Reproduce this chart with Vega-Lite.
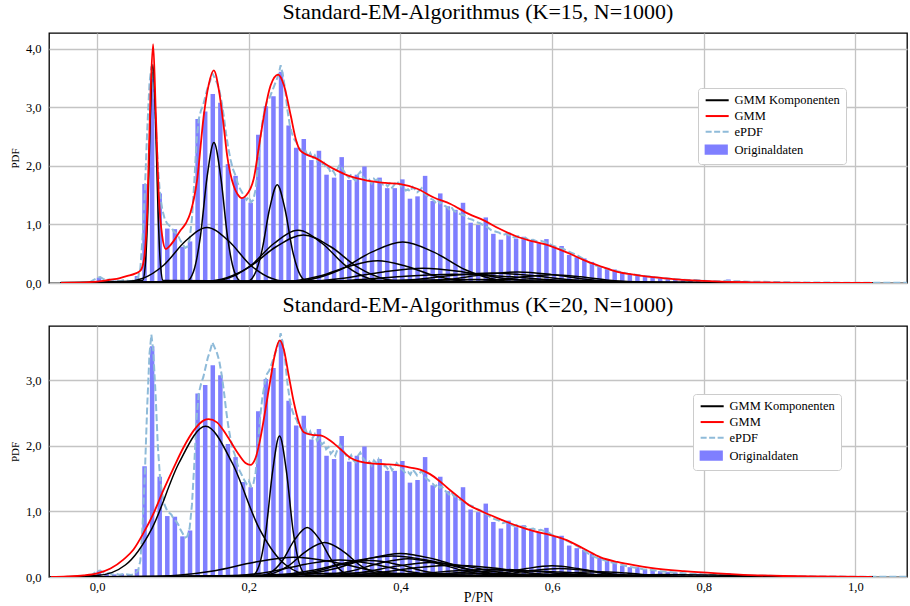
{
"$schema": "https://vega.github.io/schema/vega-lite/v6.json",
"background": "white",
"padding": {"left": 8, "top": 0, "right": 2, "bottom": 0},
"spacing": 2,
"resolve": {"scale": {"color": "independent", "x": "independent", "y": "independent"}, "legend": {"color": "independent"}},
"datasets": {
"hist": [
{"x":0.0025,"y":0.09},{"x":0.0125,"y":0.05},{"x":0.0225,"y":0.04},{"x":0.0325,"y":0.05},{"x":0.0425,"y":0.03},{"x":0.0525,"y":0.12},
{"x":0.0625,"y":1.69},{"x":0.0725,"y":3.52},{"x":0.0825,"y":1.53},{"x":0.0925,"y":0.93},{"x":0.1025,"y":0.92},{"x":0.1125,"y":0.62},
{"x":0.1225,"y":0.71},{"x":0.1325,"y":2.8},{"x":0.1425,"y":2.93},{"x":0.1525,"y":3.23},{"x":0.1625,"y":3.08},{"x":0.1725,"y":2.03},
{"x":0.1825,"y":1.83},{"x":0.1925,"y":1.45},{"x":0.2025,"y":1.37},{"x":0.2125,"y":2.53},{"x":0.2225,"y":3.02},{"x":0.2325,"y":3.19},
{"x":0.2425,"y":3.61},{"x":0.2525,"y":2.69},{"x":0.2625,"y":2.31},{"x":0.2725,"y":2.46},{"x":0.2825,"y":2.1},{"x":0.2925,"y":2.26},
{"x":0.3025,"y":1.85},{"x":0.3125,"y":1.8},{"x":0.3225,"y":2.15},{"x":0.3325,"y":1.76},{"x":0.3425,"y":1.85},{"x":0.3525,"y":1.99},
{"x":0.3625,"y":1.73},{"x":0.3725,"y":1.8},{"x":0.3825,"y":1.62},{"x":0.3925,"y":1.62},{"x":0.4025,"y":1.77},{"x":0.4125,"y":1.44},
{"x":0.4225,"y":1.48},{"x":0.4325,"y":1.83},{"x":0.4425,"y":1.4},{"x":0.4525,"y":1.53},{"x":0.4625,"y":1.31},{"x":0.4725,"y":1.25},
{"x":0.4825,"y":1.37},{"x":0.4925,"y":1.03},{"x":0.5025,"y":0.99},{"x":0.5125,"y":1.12},{"x":0.5225,"y":0.84},{"x":0.5325,"y":0.74},
{"x":0.5425,"y":0.86},{"x":0.5525,"y":0.76},{"x":0.5625,"y":0.79},{"x":0.5725,"y":0.71},{"x":0.5825,"y":0.68},{"x":0.5925,"y":0.75},
{"x":0.6025,"y":0.62},{"x":0.6125,"y":0.63},{"x":0.6225,"y":0.48},{"x":0.6325,"y":0.44},{"x":0.6425,"y":0.42},{"x":0.6525,"y":0.36},
{"x":0.6625,"y":0.29},{"x":0.6725,"y":0.26},{"x":0.6825,"y":0.23},{"x":0.6925,"y":0.17},{"x":0.7025,"y":0.15},{"x":0.7125,"y":0.15},
{"x":0.7225,"y":0.12},{"x":0.7325,"y":0.11},{"x":0.7425,"y":0.09},{"x":0.7525,"y":0.08},{"x":0.7625,"y":0.07},{"x":0.7725,"y":0.05},
{"x":0.7825,"y":0.04},{"x":0.7925,"y":0.05},{"x":0.8025,"y":0.03},{"x":0.8125,"y":0.02},{"x":0.8225,"y":0.02},{"x":0.8325,"y":0.06},
{"x":0.8425,"y":0.03},{"x":0.8525,"y":0.03},{"x":0.8625,"y":0.02},{"x":0.8725,"y":0.01},{"x":0.8825,"y":0.02},{"x":0.8925,"y":0.01},
{"x":0.9025,"y":0.01},{"x":0.9125,"y":0.01},{"x":0.9225,"y":0.005},{"x":0.9325,"y":0.005},{"x":0.9525,"y":0.005},{"x":0.9825,"y":0.004}
],
"epdf": [
{"x":-0.01,"y":0.01},{"x":-0.005,"y":0.05},{"x":0.0,"y":0.09},{"x":0.004,"y":0.1},{"x":0.008,"y":0.07},{"x":0.012,"y":0.05},{"x":0.016,"y":0.06},
{"x":0.02,"y":0.04},{"x":0.025,"y":0.05},{"x":0.03,"y":0.03},{"x":0.035,"y":0.05},{"x":0.04,"y":0.04},{"x":0.045,"y":0.03},{"x":0.05,"y":0.05},
{"x":0.054,"y":0.1},{"x":0.057,"y":0.25},{"x":0.06,"y":0.8},{"x":0.063,"y":1.6},{"x":0.066,"y":2.6},{"x":0.069,"y":3.4},{"x":0.0715,"y":3.7},
{"x":0.074,"y":3.45},{"x":0.077,"y":2.8},{"x":0.08,"y":2.0},{"x":0.083,"y":1.5},{"x":0.086,"y":1.25},{"x":0.089,"y":1.1},{"x":0.092,"y":1.02},
{"x":0.095,"y":0.98},{"x":0.098,"y":0.95},{"x":0.101,"y":0.88},{"x":0.104,"y":0.85},{"x":0.107,"y":0.8},{"x":0.11,"y":0.72},{"x":0.113,"y":0.66},
{"x":0.116,"y":0.6},{"x":0.119,"y":0.62},{"x":0.122,"y":0.75},{"x":0.125,"y":1.1},{"x":0.128,"y":1.7},{"x":0.131,"y":2.4},{"x":0.134,"y":2.8},
{"x":0.137,"y":2.95},{"x":0.14,"y":3.05},{"x":0.143,"y":3.2},{"x":0.146,"y":3.35},{"x":0.149,"y":3.45},{"x":0.152,"y":3.58},{"x":0.155,"y":3.5},
{"x":0.158,"y":3.42},{"x":0.161,"y":3.3},{"x":0.164,"y":3.1},{"x":0.167,"y":2.85},{"x":0.17,"y":2.55},{"x":0.173,"y":2.3},{"x":0.176,"y":2.1},
{"x":0.179,"y":1.95},{"x":0.182,"y":1.85},{"x":0.185,"y":1.72},{"x":0.188,"y":1.62},{"x":0.191,"y":1.55},{"x":0.194,"y":1.48},{"x":0.197,"y":1.42},
{"x":0.2,"y":1.47},{"x":0.203,"y":1.38},{"x":0.206,"y":1.42},{"x":0.209,"y":1.6},{"x":0.212,"y":2.0},{"x":0.215,"y":2.45},{"x":0.218,"y":2.75},
{"x":0.221,"y":2.95},{"x":0.224,"y":3.1},{"x":0.227,"y":3.15},{"x":0.23,"y":3.25},{"x":0.233,"y":3.35},{"x":0.236,"y":3.45},{"x":0.239,"y":3.55},
{"x":0.242,"y":3.72},{"x":0.245,"y":3.55},{"x":0.248,"y":3.3},{"x":0.251,"y":2.95},{"x":0.254,"y":2.7},{"x":0.257,"y":2.55},{"x":0.26,"y":2.45},
{"x":0.263,"y":2.4},{"x":0.266,"y":2.3},{"x":0.269,"y":2.28},{"x":0.272,"y":2.2},{"x":0.275,"y":2.25},{"x":0.278,"y":2.15},{"x":0.281,"y":2.22},
{"x":0.284,"y":2.12},{"x":0.287,"y":2.18},{"x":0.29,"y":2.08},{"x":0.293,"y":2.12},{"x":0.296,"y":2.02},{"x":0.299,"y":2.05},{"x":0.302,"y":1.95},
{"x":0.305,"y":1.98},{"x":0.308,"y":1.88},{"x":0.311,"y":1.92},{"x":0.314,"y":1.85},{"x":0.317,"y":1.95},{"x":0.32,"y":2.02},{"x":0.323,"y":1.96},
{"x":0.326,"y":1.9},{"x":0.329,"y":1.84},{"x":0.332,"y":1.8},{"x":0.335,"y":1.86},{"x":0.338,"y":1.78},{"x":0.341,"y":1.75},{"x":0.344,"y":1.85},
{"x":0.347,"y":1.9},{"x":0.35,"y":1.82},{"x":0.353,"y":1.78},{"x":0.356,"y":1.72},{"x":0.359,"y":1.76},{"x":0.362,"y":1.7},{"x":0.365,"y":1.78},
{"x":0.368,"y":1.74},{"x":0.371,"y":1.8},{"x":0.374,"y":1.72},{"x":0.377,"y":1.68},{"x":0.38,"y":1.7},{"x":0.383,"y":1.65},{"x":0.386,"y":1.7},
{"x":0.389,"y":1.63},{"x":0.392,"y":1.68},{"x":0.395,"y":1.74},{"x":0.398,"y":1.7},{"x":0.401,"y":1.65},{"x":0.404,"y":1.62},{"x":0.407,"y":1.58},
{"x":0.41,"y":1.6},{"x":0.413,"y":1.56},{"x":0.416,"y":1.64},{"x":0.419,"y":1.6},{"x":0.422,"y":1.55},{"x":0.425,"y":1.58},{"x":0.428,"y":1.62},
{"x":0.431,"y":1.55},{"x":0.434,"y":1.5},{"x":0.437,"y":1.48},{"x":0.44,"y":1.44},{"x":0.443,"y":1.42},{"x":0.446,"y":1.38},{"x":0.449,"y":1.42},
{"x":0.452,"y":1.36},{"x":0.455,"y":1.38},{"x":0.458,"y":1.32},{"x":0.461,"y":1.3},{"x":0.464,"y":1.26},{"x":0.467,"y":1.3},{"x":0.47,"y":1.24},
{"x":0.475,"y":1.2},{"x":0.48,"y":1.17},{"x":0.485,"y":1.15},{"x":0.49,"y":1.1},{"x":0.495,"y":1.08},{"x":0.5,"y":1.04},{"x":0.505,"y":1.02},
{"x":0.51,"y":0.98},{"x":0.515,"y":0.95},{"x":0.52,"y":0.9},{"x":0.525,"y":0.88},{"x":0.53,"y":0.86},{"x":0.535,"y":0.82},{"x":0.54,"y":0.84},
{"x":0.545,"y":0.8},{"x":0.55,"y":0.78},{"x":0.555,"y":0.8},{"x":0.56,"y":0.76},{"x":0.565,"y":0.77},{"x":0.57,"y":0.73},{"x":0.575,"y":0.74},
{"x":0.58,"y":0.71},{"x":0.585,"y":0.72},{"x":0.59,"y":0.7},{"x":0.595,"y":0.68},{"x":0.6,"y":0.64},{"x":0.605,"y":0.62},{"x":0.61,"y":0.6},
{"x":0.615,"y":0.58},{"x":0.62,"y":0.55},{"x":0.625,"y":0.52},{"x":0.63,"y":0.49},{"x":0.635,"y":0.46},{"x":0.64,"y":0.42},{"x":0.645,"y":0.38},
{"x":0.65,"y":0.34},{"x":0.655,"y":0.31},{"x":0.66,"y":0.29},{"x":0.665,"y":0.27},{"x":0.67,"y":0.25},{"x":0.675,"y":0.23},{"x":0.68,"y":0.22},
{"x":0.69,"y":0.19},{"x":0.7,"y":0.16},{"x":0.71,"y":0.14},{"x":0.72,"y":0.12},{"x":0.73,"y":0.11},{"x":0.74,"y":0.09},{"x":0.75,"y":0.08},
{"x":0.76,"y":0.07},{"x":0.77,"y":0.06},{"x":0.78,"y":0.05},{"x":0.79,"y":0.05},{"x":0.8,"y":0.04},{"x":0.81,"y":0.03},{"x":0.82,"y":0.03},
{"x":0.83,"y":0.04},{"x":0.84,"y":0.03},{"x":0.85,"y":0.03},{"x":0.86,"y":0.02},{"x":0.88,"y":0.02},{"x":0.9,"y":0.015},{"x":0.92,"y":0.01},
{"x":0.94,"y":0.01},{"x":0.96,"y":0.008},{"x":0.98,"y":0.006},{"x":1.0,"y":0.005},{"x":1.03,"y":0.004},{"x":1.068,"y":0.003}
],
"gmmTop": [
{"x":-0.048,"y":0},{"x":-0.03,"y":0.005},{"x":-0.01,"y":0.015},{"x":0.0,"y":0.025},{"x":0.01,"y":0.04},{"x":0.02,"y":0.06},{"x":0.03,"y":0.085},
{"x":0.04,"y":0.12},{"x":0.05,"y":0.16},{"x":0.057,"y":0.21},{"x":0.0615,"y":0.38},{"x":0.066,"y":1.21},{"x":0.0703,"y":3.2},{"x":0.0738,"y":4.08},
{"x":0.0773,"y":2.92},{"x":0.0813,"y":1.49},{"x":0.0857,"y":0.81},{"x":0.0905,"y":0.58},{"x":0.0955,"y":0.63},{"x":0.101,"y":0.72},{"x":0.11,"y":0.9},
{"x":0.117,"y":1.02},{"x":0.123,"y":1.2},{"x":0.132,"y":1.78},{"x":0.1406,"y":2.86},{"x":0.147,"y":3.38},{"x":0.1538,"y":3.63},{"x":0.1605,"y":3.3},
{"x":0.1667,"y":2.7},{"x":0.1714,"y":2.18},{"x":0.18,"y":1.66},{"x":0.185,"y":1.52},{"x":0.191,"y":1.45},{"x":0.196,"y":1.49},{"x":0.2065,"y":1.78},
{"x":0.213,"y":2.3},{"x":0.22,"y":2.86},{"x":0.2286,"y":3.37},{"x":0.2387,"y":3.56},{"x":0.2465,"y":3.37},{"x":0.2553,"y":2.86},{"x":0.2619,"y":2.46},
{"x":0.268,"y":2.26},{"x":0.29,"y":2.12},{"x":0.312,"y":1.95},{"x":0.334,"y":1.82},{"x":0.356,"y":1.75},{"x":0.38,"y":1.71},{"x":0.4,"y":1.69},
{"x":0.422,"y":1.61},{"x":0.444,"y":1.46},{"x":0.466,"y":1.35},{"x":0.49,"y":1.18},{"x":0.51,"y":1.07},{"x":0.53,"y":0.93},{"x":0.554,"y":0.79},
{"x":0.575,"y":0.71},{"x":0.598,"y":0.63},{"x":0.62,"y":0.52},{"x":0.642,"y":0.39},{"x":0.665,"y":0.28},{"x":0.686,"y":0.19},{"x":0.71,"y":0.14},
{"x":0.73,"y":0.105},{"x":0.75,"y":0.08},{"x":0.773,"y":0.055},{"x":0.8,"y":0.035},{"x":0.83,"y":0.02},{"x":0.86,"y":0.012},{"x":0.9,"y":0.006},
{"x":0.95,"y":0.003},{"x":1.022,"y":0.001}
],
"gmmBot": [
{"x":-0.061,"y":0},{"x":-0.04,"y":0.008},{"x":-0.018,"y":0.025},{"x":0.0,"y":0.056},{"x":0.0176,"y":0.13},{"x":0.035,"y":0.27},{"x":0.048,"y":0.42},
{"x":0.0615,"y":0.68},{"x":0.0747,"y":0.98},{"x":0.088,"y":1.34},{"x":0.101,"y":1.67},{"x":0.114,"y":1.98},{"x":0.127,"y":2.23},{"x":0.1406,"y":2.39},
{"x":0.147,"y":2.41},{"x":0.158,"y":2.36},{"x":0.171,"y":2.16},{"x":0.185,"y":1.9},{"x":0.1956,"y":1.74},{"x":0.202,"y":1.71},{"x":0.209,"y":1.82},
{"x":0.215,"y":2.1},{"x":0.222,"y":2.56},{"x":0.2286,"y":3.02},{"x":0.235,"y":3.43},{"x":0.2409,"y":3.61},{"x":0.246,"y":3.48},{"x":0.2527,"y":3.07},
{"x":0.2593,"y":2.67},{"x":0.266,"y":2.36},{"x":0.2725,"y":2.21},{"x":0.2835,"y":2.17},{"x":0.2945,"y":2.16},{"x":0.3077,"y":2.08},{"x":0.321,"y":1.95},
{"x":0.334,"y":1.82},{"x":0.347,"y":1.76},{"x":0.365,"y":1.73},{"x":0.382,"y":1.72},{"x":0.4,"y":1.7},{"x":0.413,"y":1.67},{"x":0.426,"y":1.64},
{"x":0.439,"y":1.57},{"x":0.453,"y":1.45},{"x":0.466,"y":1.32},{"x":0.479,"y":1.2},{"x":0.49,"y":1.1},{"x":0.5055,"y":1.01},{"x":0.532,"y":0.88},
{"x":0.554,"y":0.78},{"x":0.576,"y":0.7},{"x":0.598,"y":0.64},{"x":0.62,"y":0.56},{"x":0.642,"y":0.43},{"x":0.664,"y":0.3},{"x":0.686,"y":0.23},
{"x":0.708,"y":0.18},{"x":0.73,"y":0.14},{"x":0.774,"y":0.09},{"x":0.818,"y":0.056},{"x":0.862,"y":0.03},{"x":0.905,"y":0.015},{"x":0.95,"y":0.008},
{"x":1.022,"y":0.003}
],
"compTop": [
{"k":1,"x":-0.048,"y":0},{"k":1,"x":0.06,"y":0.041},{"k":1,"x":0.0634,"y":0.297},{"k":1,"x":0.0668,"y":1.211},{"k":1,"x":0.0701,"y":2.815},{"k":1,"x":0.0735,"y":3.73},{"k":1,"x":0.0769,"y":2.815},{"k":1,"x":0.0803,"y":1.211},{"k":1,"x":0.0836,"y":0.297},{"k":1,"x":0.087,"y":0.041},{"k":1,"x":1.022,"y":0},
{"k":2,"x":-0.048,"y":0},{"k":2,"x":0.118,"y":0.027},{"k":2,"x":0.127,"y":0.191},{"k":2,"x":0.136,"y":0.779},{"k":2,"x":0.145,"y":1.812},{"k":2,"x":0.154,"y":2.4},{"k":2,"x":0.163,"y":1.812},{"k":2,"x":0.172,"y":0.779},{"k":2,"x":0.181,"y":0.191},{"k":2,"x":0.19,"y":0.027},{"k":2,"x":1.022,"y":0},
{"k":3,"x":-0.048,"y":0},{"k":3,"x":0.031,"y":0.011},{"k":3,"x":0.0595,"y":0.076},{"k":3,"x":0.088,"y":0.308},{"k":3,"x":0.1165,"y":0.717},{"k":3,"x":0.145,"y":0.95},{"k":3,"x":0.1735,"y":0.717},{"k":3,"x":0.202,"y":0.308},{"k":3,"x":0.2305,"y":0.076},{"k":3,"x":0.259,"y":0.011},{"k":3,"x":1.022,"y":0},
{"k":4,"x":-0.048,"y":0},{"k":4,"x":0.197,"y":0.019},{"k":4,"x":0.2071,"y":0.134},{"k":4,"x":0.2172,"y":0.545},{"k":4,"x":0.2274,"y":1.268},{"k":4,"x":0.2375,"y":1.68},{"k":4,"x":0.2476,"y":1.268},{"k":4,"x":0.2578,"y":0.545},{"k":4,"x":0.2679,"y":0.134},{"k":4,"x":0.278,"y":0.019},{"k":4,"x":1.022,"y":0},
{"k":5,"x":-0.048,"y":0},{"k":5,"x":0.139,"y":0.01},{"k":5,"x":0.1705,"y":0.072},{"k":5,"x":0.202,"y":0.292},{"k":5,"x":0.2335,"y":0.679},{"k":5,"x":0.265,"y":0.9},{"k":5,"x":0.2965,"y":0.679},{"k":5,"x":0.328,"y":0.292},{"k":5,"x":0.3595,"y":0.072},{"k":5,"x":0.391,"y":0.01},{"k":5,"x":1.022,"y":0},
{"k":6,"x":-0.048,"y":0},{"k":6,"x":0.128,"y":0.009},{"k":6,"x":0.164,"y":0.065},{"k":6,"x":0.2,"y":0.266},{"k":6,"x":0.236,"y":0.619},{"k":6,"x":0.272,"y":0.82},{"k":6,"x":0.308,"y":0.619},{"k":6,"x":0.344,"y":0.266},{"k":6,"x":0.38,"y":0.065},{"k":6,"x":0.416,"y":0.009},{"k":6,"x":1.022,"y":0},
{"k":7,"x":-0.048,"y":0},{"k":7,"x":0.238,"y":0.008},{"k":7,"x":0.279,"y":0.056},{"k":7,"x":0.3205,"y":0.227},{"k":7,"x":0.362,"y":0.528},{"k":7,"x":0.403,"y":0.7},{"k":7,"x":0.444,"y":0.528},{"k":7,"x":0.4855,"y":0.227},{"k":7,"x":0.527,"y":0.056},{"k":7,"x":0.568,"y":0.008},{"k":7,"x":1.022,"y":0},
{"k":8,"x":-0.048,"y":0},{"k":8,"x":0.22,"y":0.004},{"k":8,"x":0.2575,"y":0.03},{"k":8,"x":0.295,"y":0.123},{"k":8,"x":0.3325,"y":0.287},{"k":8,"x":0.37,"y":0.38},{"k":8,"x":0.4075,"y":0.287},{"k":8,"x":0.445,"y":0.123},{"k":8,"x":0.4825,"y":0.03},{"k":8,"x":0.52,"y":0.004},{"k":8,"x":1.022,"y":0},
{"k":9,"x":-0.048,"y":0},{"k":9,"x":0.22,"y":0.003},{"k":9,"x":0.2725,"y":0.02},{"k":9,"x":0.325,"y":0.081},{"k":9,"x":0.3775,"y":0.189},{"k":9,"x":0.43,"y":0.25},{"k":9,"x":0.4825,"y":0.189},{"k":9,"x":0.535,"y":0.081},{"k":9,"x":0.5875,"y":0.02},{"k":9,"x":0.64,"y":0.003},{"k":9,"x":1.022,"y":0},
{"k":10,"x":-0.048,"y":0},{"k":10,"x":0.375,"y":0.002},{"k":10,"x":0.42,"y":0.015},{"k":10,"x":0.465,"y":0.062},{"k":10,"x":0.51,"y":0.143},{"k":10,"x":0.555,"y":0.19},{"k":10,"x":0.6,"y":0.143},{"k":10,"x":0.645,"y":0.062},{"k":10,"x":0.69,"y":0.015},{"k":10,"x":0.735,"y":0.002},{"k":10,"x":1.022,"y":0},
{"k":11,"x":-0.048,"y":0},{"k":11,"x":0.31,"y":0.002},{"k":11,"x":0.3625,"y":0.014},{"k":11,"x":0.415,"y":0.055},{"k":11,"x":0.4675,"y":0.128},{"k":11,"x":0.52,"y":0.17},{"k":11,"x":0.5725,"y":0.128},{"k":11,"x":0.625,"y":0.055},{"k":11,"x":0.6775,"y":0.014},{"k":11,"x":0.73,"y":0.002},{"k":11,"x":1.022,"y":0},
{"k":12,"x":-0.048,"y":0},{"k":12,"x":0.45,"y":0.002},{"k":12,"x":0.4875,"y":0.011},{"k":12,"x":0.525,"y":0.045},{"k":12,"x":0.5625,"y":0.106},{"k":12,"x":0.6,"y":0.14},{"k":12,"x":0.6375,"y":0.106},{"k":12,"x":0.675,"y":0.045},{"k":12,"x":0.7125,"y":0.011},{"k":12,"x":0.75,"y":0.002},{"k":12,"x":1.022,"y":0},
{"k":13,"x":-0.048,"y":0},{"k":13,"x":0.2,"y":0.002},{"k":13,"x":0.2675,"y":0.012},{"k":13,"x":0.335,"y":0.049},{"k":13,"x":0.4025,"y":0.113},{"k":13,"x":0.47,"y":0.15},{"k":13,"x":0.5375,"y":0.113},{"k":13,"x":0.605,"y":0.049},{"k":13,"x":0.6725,"y":0.012},{"k":13,"x":0.74,"y":0.002},{"k":13,"x":1.022,"y":0},
{"k":14,"x":-0.048,"y":0},{"k":14,"x":0.05,"y":0.001},{"k":14,"x":0.1625,"y":0.005},{"k":14,"x":0.275,"y":0.019},{"k":14,"x":0.3875,"y":0.045},{"k":14,"x":0.5,"y":0.06},{"k":14,"x":0.6125,"y":0.045},{"k":14,"x":0.725,"y":0.019},{"k":14,"x":0.8375,"y":0.005},{"k":14,"x":0.95,"y":0.001},{"k":14,"x":1.022,"y":0},
{"k":15,"x":-0.048,"y":0.009},{"k":15,"x":0.0,"y":0.013},{"k":15,"x":0.15,"y":0.03},{"k":15,"x":0.3,"y":0.04},{"k":15,"x":0.45,"y":0.03},{"k":15,"x":0.6,"y":0.013},{"k":15,"x":0.75,"y":0.003},{"k":15,"x":0.9,"y":0.0004},{"k":15,"x":1.022,"y":0}
],
"compBot": [
{"k":1,"x":-0.061,"y":0},{"k":1,"x":0.002,"y":0.026},{"k":1,"x":0.0372,"y":0.183},{"k":1,"x":0.0725,"y":0.747},{"k":1,"x":0.1077,"y":1.736},{"k":1,"x":0.143,"y":2.3},{"k":1,"x":0.1783,"y":1.736},{"k":1,"x":0.2135,"y":0.747},{"k":1,"x":0.2488,"y":0.183},{"k":1,"x":0.284,"y":0.026},{"k":1,"x":1.022,"y":0},
{"k":2,"x":-0.061,"y":0},{"k":2,"x":0.2045,"y":0.024},{"k":2,"x":0.2135,"y":0.171},{"k":2,"x":0.2225,"y":0.698},{"k":2,"x":0.2315,"y":1.623},{"k":2,"x":0.2405,"y":2.15},{"k":2,"x":0.2495,"y":1.623},{"k":2,"x":0.2585,"y":0.698},{"k":2,"x":0.2675,"y":0.171},{"k":2,"x":0.2765,"y":0.024},{"k":2,"x":1.022,"y":0},
{"k":3,"x":-0.061,"y":0},{"k":3,"x":0.211,"y":0.008},{"k":3,"x":0.2275,"y":0.06},{"k":3,"x":0.244,"y":0.245},{"k":3,"x":0.2605,"y":0.57},{"k":3,"x":0.277,"y":0.755},{"k":3,"x":0.2935,"y":0.57},{"k":3,"x":0.31,"y":0.245},{"k":3,"x":0.3265,"y":0.06},{"k":3,"x":0.343,"y":0.008},{"k":3,"x":1.022,"y":0},
{"k":4,"x":-0.061,"y":0},{"k":4,"x":0.204,"y":0.006},{"k":4,"x":0.228,"y":0.042},{"k":4,"x":0.252,"y":0.17},{"k":4,"x":0.276,"y":0.396},{"k":4,"x":0.3,"y":0.525},{"k":4,"x":0.324,"y":0.396},{"k":4,"x":0.348,"y":0.17},{"k":4,"x":0.372,"y":0.042},{"k":4,"x":0.396,"y":0.006},{"k":4,"x":1.022,"y":0},
{"k":5,"x":-0.061,"y":0},{"k":5,"x":0.05,"y":0.003},{"k":5,"x":0.1025,"y":0.024},{"k":5,"x":0.155,"y":0.097},{"k":5,"x":0.2075,"y":0.226},{"k":5,"x":0.26,"y":0.3},{"k":5,"x":0.3125,"y":0.226},{"k":5,"x":0.365,"y":0.097},{"k":5,"x":0.4175,"y":0.024},{"k":5,"x":0.47,"y":0.003},{"k":5,"x":1.022,"y":0},
{"k":6,"x":-0.061,"y":0},{"k":6,"x":0.22,"y":0.004},{"k":6,"x":0.265,"y":0.029},{"k":6,"x":0.31,"y":0.117},{"k":6,"x":0.355,"y":0.272},{"k":6,"x":0.4,"y":0.36},{"k":6,"x":0.445,"y":0.272},{"k":6,"x":0.49,"y":0.117},{"k":6,"x":0.535,"y":0.029},{"k":6,"x":0.58,"y":0.004},{"k":6,"x":1.022,"y":0},
{"k":7,"x":-0.061,"y":0},{"k":7,"x":0.18,"y":0.004},{"k":7,"x":0.2325,"y":0.025},{"k":7,"x":0.285,"y":0.104},{"k":7,"x":0.3375,"y":0.242},{"k":7,"x":0.39,"y":0.32},{"k":7,"x":0.4425,"y":0.242},{"k":7,"x":0.495,"y":0.104},{"k":7,"x":0.5475,"y":0.025},{"k":7,"x":0.6,"y":0.004},{"k":7,"x":1.022,"y":0},
{"k":8,"x":-0.061,"y":0},{"k":8,"x":0.26,"y":0.003},{"k":8,"x":0.2975,"y":0.022},{"k":8,"x":0.335,"y":0.091},{"k":8,"x":0.3725,"y":0.211},{"k":8,"x":0.41,"y":0.28},{"k":8,"x":0.4475,"y":0.211},{"k":8,"x":0.485,"y":0.091},{"k":8,"x":0.5225,"y":0.022},{"k":8,"x":0.56,"y":0.003},{"k":8,"x":1.022,"y":0},
{"k":9,"x":-0.061,"y":0},{"k":9,"x":0.21,"y":0.003},{"k":9,"x":0.2475,"y":0.02},{"k":9,"x":0.285,"y":0.081},{"k":9,"x":0.3225,"y":0.189},{"k":9,"x":0.36,"y":0.25},{"k":9,"x":0.3975,"y":0.189},{"k":9,"x":0.435,"y":0.081},{"k":9,"x":0.4725,"y":0.02},{"k":9,"x":0.51,"y":0.003},{"k":9,"x":1.022,"y":0},
{"k":10,"x":-0.061,"y":0},{"k":10,"x":0.26,"y":0.002},{"k":10,"x":0.305,"y":0.018},{"k":10,"x":0.35,"y":0.071},{"k":10,"x":0.395,"y":0.166},{"k":10,"x":0.44,"y":0.22},{"k":10,"x":0.485,"y":0.166},{"k":10,"x":0.53,"y":0.071},{"k":10,"x":0.575,"y":0.018},{"k":10,"x":0.62,"y":0.002},{"k":10,"x":1.022,"y":0},
{"k":11,"x":-0.061,"y":0},{"k":11,"x":0.14,"y":0.003},{"k":11,"x":0.185,"y":0.021},{"k":11,"x":0.23,"y":0.084},{"k":11,"x":0.275,"y":0.196},{"k":11,"x":0.32,"y":0.26},{"k":11,"x":0.365,"y":0.196},{"k":11,"x":0.41,"y":0.084},{"k":11,"x":0.455,"y":0.021},{"k":11,"x":0.5,"y":0.003},{"k":11,"x":1.022,"y":0},
{"k":12,"x":-0.061,"y":0},{"k":12,"x":0.26,"y":0.002},{"k":12,"x":0.3125,"y":0.014},{"k":12,"x":0.365,"y":0.058},{"k":12,"x":0.4175,"y":0.136},{"k":12,"x":0.47,"y":0.18},{"k":12,"x":0.5225,"y":0.136},{"k":12,"x":0.575,"y":0.058},{"k":12,"x":0.6275,"y":0.014},{"k":12,"x":0.68,"y":0.002},{"k":12,"x":1.022,"y":0},
{"k":13,"x":-0.061,"y":0},{"k":13,"x":0.31,"y":0.001},{"k":13,"x":0.3625,"y":0.01},{"k":13,"x":0.415,"y":0.039},{"k":13,"x":0.4675,"y":0.091},{"k":13,"x":0.52,"y":0.12},{"k":13,"x":0.5725,"y":0.091},{"k":13,"x":0.625,"y":0.039},{"k":13,"x":0.6775,"y":0.01},{"k":13,"x":0.73,"y":0.001},{"k":13,"x":1.022,"y":0},
{"k":14,"x":-0.061,"y":0},{"k":14,"x":0.465,"y":0.002},{"k":14,"x":0.499,"y":0.014},{"k":14,"x":0.5325,"y":0.055},{"k":14,"x":0.566,"y":0.128},{"k":14,"x":0.6,"y":0.17},{"k":14,"x":0.634,"y":0.128},{"k":14,"x":0.6675,"y":0.055},{"k":14,"x":0.701,"y":0.014},{"k":14,"x":0.735,"y":0.002},{"k":14,"x":1.022,"y":0},
{"k":15,"x":-0.061,"y":0},{"k":15,"x":0.46,"y":0.001},{"k":15,"x":0.4975,"y":0.01},{"k":15,"x":0.535,"y":0.042},{"k":15,"x":0.5725,"y":0.098},{"k":15,"x":0.61,"y":0.13},{"k":15,"x":0.6475,"y":0.098},{"k":15,"x":0.685,"y":0.042},{"k":15,"x":0.7225,"y":0.01},{"k":15,"x":0.76,"y":0.001},{"k":15,"x":1.022,"y":0},
{"k":16,"x":-0.061,"y":0},{"k":16,"x":0.31,"y":0.001},{"k":16,"x":0.37,"y":0.008},{"k":16,"x":0.43,"y":0.032},{"k":16,"x":0.49,"y":0.075},{"k":16,"x":0.55,"y":0.1},{"k":16,"x":0.61,"y":0.075},{"k":16,"x":0.67,"y":0.032},{"k":16,"x":0.73,"y":0.008},{"k":16,"x":0.79,"y":0.001},{"k":16,"x":1.022,"y":0},
{"k":17,"x":-0.061,"y":0},{"k":17,"x":0.51,"y":0.001},{"k":17,"x":0.5475,"y":0.006},{"k":17,"x":0.585,"y":0.026},{"k":17,"x":0.6225,"y":0.06},{"k":17,"x":0.66,"y":0.08},{"k":17,"x":0.6975,"y":0.06},{"k":17,"x":0.735,"y":0.026},{"k":17,"x":0.7725,"y":0.006},{"k":17,"x":0.81,"y":0.001},{"k":17,"x":1.022,"y":0},
{"k":18,"x":-0.061,"y":0},{"k":18,"x":-0.01,"y":0.001},{"k":18,"x":0.08,"y":0.005},{"k":18,"x":0.17,"y":0.019},{"k":18,"x":0.26,"y":0.045},{"k":18,"x":0.35,"y":0.06},{"k":18,"x":0.44,"y":0.045},{"k":18,"x":0.53,"y":0.019},{"k":18,"x":0.62,"y":0.005},{"k":18,"x":0.71,"y":0.001},{"k":18,"x":1.022,"y":0},
{"k":19,"x":-0.061,"y":0},{"k":19,"x":0.05,"y":0.001},{"k":19,"x":0.1625,"y":0.004},{"k":19,"x":0.275,"y":0.016},{"k":19,"x":0.3875,"y":0.038},{"k":19,"x":0.5,"y":0.05},{"k":19,"x":0.6125,"y":0.038},{"k":19,"x":0.725,"y":0.016},{"k":19,"x":0.8375,"y":0.004},{"k":19,"x":0.95,"y":0.001},{"k":19,"x":1.022,"y":0},
{"k":20,"x":-0.061,"y":0},{"k":20,"x":0.51,"y":0.0004},{"k":20,"x":0.57,"y":0.003},{"k":20,"x":0.63,"y":0.013},{"k":20,"x":0.69,"y":0.03},{"k":20,"x":0.75,"y":0.04},{"k":20,"x":0.81,"y":0.03},{"k":20,"x":0.87,"y":0.013},{"k":20,"x":0.93,"y":0.003},{"k":20,"x":0.99,"y":0.0004},{"k":20,"x":1.022,"y":0}
]
},
"vconcat": [
{
"width": 858, "height": 250,
"title": "Standard-EM-Algorithmus (K=15, N=1000)",
"layer": [
{"data": {"name": "hist"}, "mark": {"type": "bar", "size": 4.5},
 "encoding": {
  "x": {"field": "x", "type": "quantitative", "scale": {"domain": [-0.0635, 1.068], "nice": false, "zero": false, "padding": 0},
        "axis": {"values": [0, 0.2, 0.4, 0.6, 0.8, 1.0], "labels": false, "title": null, "grid": true, "minExtent": 0, "maxExtent": 0}},
  "y": {"field": "y", "type": "quantitative", "scale": {"domain": [0, 4.27], "nice": false, "zero": false, "padding": 0},
        "axis": {"values": [0, 0.5, 1, 1.5, 2, 2.5, 3, 3.5, 4], "labelExpr": "datum.value % 1 === 0 ? replace(format(datum.value, '.1f'), '.', ',') : ''", "title": "PDF", "grid": true, "minExtent": 24, "maxExtent": 24}},
  "color": {"datum": "Originaldaten", "type": "nominal",
   "scale": {"domain": ["GMM Komponenten", "GMM", "ePDF", "Originaldaten"], "range": ["#000000", "#ff0000", "#8fbbd9", "#7f7fff"]},
   "legend": {"title": null, "orient": "none", "legendX": 649, "legendY": 55, "direction": "vertical",
     "fillColor": "#ffffff", "strokeColor": "#cccccc", "cornerRadius": 3, "padding": 6,
     "labelFont": "Liberation Serif", "labelFontSize": 12.5, "labelColor": "#000000", "labelOffset": 18, "labelLimit": 300,
     "rowPadding": 2.8, "symbolType": "M-1,0H4", "symbolSize": 85, "symbolStrokeWidth": 2,
     "encode": {"symbols": {"update": {
       "shape": {"signal": "datum.value === 'Originaldaten' ? 'M-1,-0.9H3.6V0.9H-1Z' : 'M-1,0H4'"},
       "fill": {"signal": "datum.value === 'Originaldaten' ? '#7f7fff' : 'transparent'"},
       "stroke": {"signal": "datum.value === 'GMM' ? '#ff0000' : datum.value === 'ePDF' ? '#8fbbd9' : datum.value === 'Originaldaten' ? 'transparent' : '#000000'"},
       "strokeDash": {"signal": "datum.value === 'ePDF' ? [6, 2.5] : []"},
       "strokeWidth": {"value": 2},
       "opacity": {"value": 1}, "fillOpacity": {"value": 1}, "strokeOpacity": {"value": 1}}}}}}
 }},
{"data": {"name": "epdf"}, "mark": {"type": "line", "strokeWidth": 2, "strokeDash": [7, 3], "clip": true},
 "encoding": {"x": {"field": "x", "type": "quantitative"}, "y": {"field": "y", "type": "quantitative"}, "color": {"datum": "ePDF", "type": "nominal"}}},
{"data": {"name": "compTop"}, "mark": {"type": "line", "strokeWidth": 1.5, "interpolate": "monotone", "clip": true},
 "encoding": {"x": {"field": "x", "type": "quantitative"}, "y": {"field": "y", "type": "quantitative"}, "detail": {"field": "k", "type": "nominal"}, "color": {"datum": "GMM Komponenten", "type": "nominal"}}},
{"data": {"name": "gmmTop"}, "mark": {"type": "line", "strokeWidth": 1.8, "interpolate": "monotone", "clip": true},
 "encoding": {"x": {"field": "x", "type": "quantitative"}, "y": {"field": "y", "type": "quantitative"}, "color": {"datum": "GMM", "type": "nominal"}}}
]
},
{
"width": 858, "height": 251,
"title": "Standard-EM-Algorithmus (K=20, N=1000)",
"layer": [
{"data": {"name": "hist"}, "mark": {"type": "bar", "size": 4.5},
 "encoding": {
  "x": {"field": "x", "type": "quantitative", "scale": {"domain": [-0.0635, 1.068], "nice": false, "zero": false, "padding": 0},
        "axis": {"values": [0, 0.2, 0.4, 0.6, 0.8, 1.0], "labelExpr": "replace(format(datum.value, '.1f'), '.', ',')", "title": "P/PN", "titleFontSize": 14, "titlePadding": 0, "labelPadding": 3, "grid": true, "minExtent": 13, "maxExtent": 13}},
  "y": {"field": "y", "type": "quantitative", "scale": {"domain": [0, 3.83], "nice": false, "zero": false, "padding": 0},
        "axis": {"values": [0, 0.5, 1, 1.5, 2, 2.5, 3, 3.5], "labelExpr": "datum.value % 1 === 0 ? replace(format(datum.value, '.1f'), '.', ',') : ''", "title": "PDF", "grid": true, "minExtent": 24, "maxExtent": 24}},
  "color": {"datum": "Originaldaten", "type": "nominal",
   "scale": {"domain": ["GMM Komponenten", "GMM", "ePDF", "Originaldaten"], "range": ["#000000", "#ff0000", "#8fbbd9", "#7f7fff"]},
   "legend": {"title": null, "orient": "none", "legendX": 644, "legendY": 68, "direction": "vertical",
     "fillColor": "#ffffff", "strokeColor": "#cccccc", "cornerRadius": 3, "padding": 6,
     "labelFont": "Liberation Serif", "labelFontSize": 12.5, "labelColor": "#000000", "labelOffset": 18, "labelLimit": 300,
     "rowPadding": 2.8, "symbolType": "M-1,0H4", "symbolSize": 85, "symbolStrokeWidth": 2,
     "encode": {"symbols": {"update": {
       "shape": {"signal": "datum.value === 'Originaldaten' ? 'M-1,-0.9H3.6V0.9H-1Z' : 'M-1,0H4'"},
       "fill": {"signal": "datum.value === 'Originaldaten' ? '#7f7fff' : 'transparent'"},
       "stroke": {"signal": "datum.value === 'GMM' ? '#ff0000' : datum.value === 'ePDF' ? '#8fbbd9' : datum.value === 'Originaldaten' ? 'transparent' : '#000000'"},
       "strokeDash": {"signal": "datum.value === 'ePDF' ? [6, 2.5] : []"},
       "strokeWidth": {"value": 2},
       "opacity": {"value": 1}, "fillOpacity": {"value": 1}, "strokeOpacity": {"value": 1}}}}}}
 }},
{"data": {"name": "epdf"}, "mark": {"type": "line", "strokeWidth": 2, "strokeDash": [7, 3], "clip": true},
 "encoding": {"x": {"field": "x", "type": "quantitative"}, "y": {"field": "y", "type": "quantitative"}, "color": {"datum": "ePDF", "type": "nominal"}}},
{"data": {"name": "compBot"}, "mark": {"type": "line", "strokeWidth": 1.5, "interpolate": "monotone", "clip": true},
 "encoding": {"x": {"field": "x", "type": "quantitative"}, "y": {"field": "y", "type": "quantitative"}, "detail": {"field": "k", "type": "nominal"}, "color": {"datum": "GMM Komponenten", "type": "nominal"}}},
{"data": {"name": "gmmBot"}, "mark": {"type": "line", "strokeWidth": 1.8, "interpolate": "monotone", "clip": true},
 "encoding": {"x": {"field": "x", "type": "quantitative"}, "y": {"field": "y", "type": "quantitative"}, "color": {"datum": "GMM", "type": "nominal"}}}
]
}
],
"config": {
 "font": "Liberation Serif",
 "view": {"stroke": "#000000", "strokeWidth": 1.3},
 "axis": {"gridColor": "#c4c4c4", "gridWidth": 1.3, "gridOpacity": 1, "domain": false, "ticks": false,
          "labelFont": "Liberation Serif", "labelFontSize": 12.5, "labelColor": "#000000", "labelPadding": 8, "labelOverlap": false, "labelFlush": false,
          "titleFont": "Liberation Serif", "titleFontSize": 11, "titleFontWeight": "normal", "titleColor": "#000000", "titlePadding": 5},
 "title": {"font": "Liberation Serif", "fontSize": 22, "fontWeight": "normal", "color": "#000000", "anchor": "middle", "frame": "group", "baseline": "alphabetic", "offset": 9}
}
}
